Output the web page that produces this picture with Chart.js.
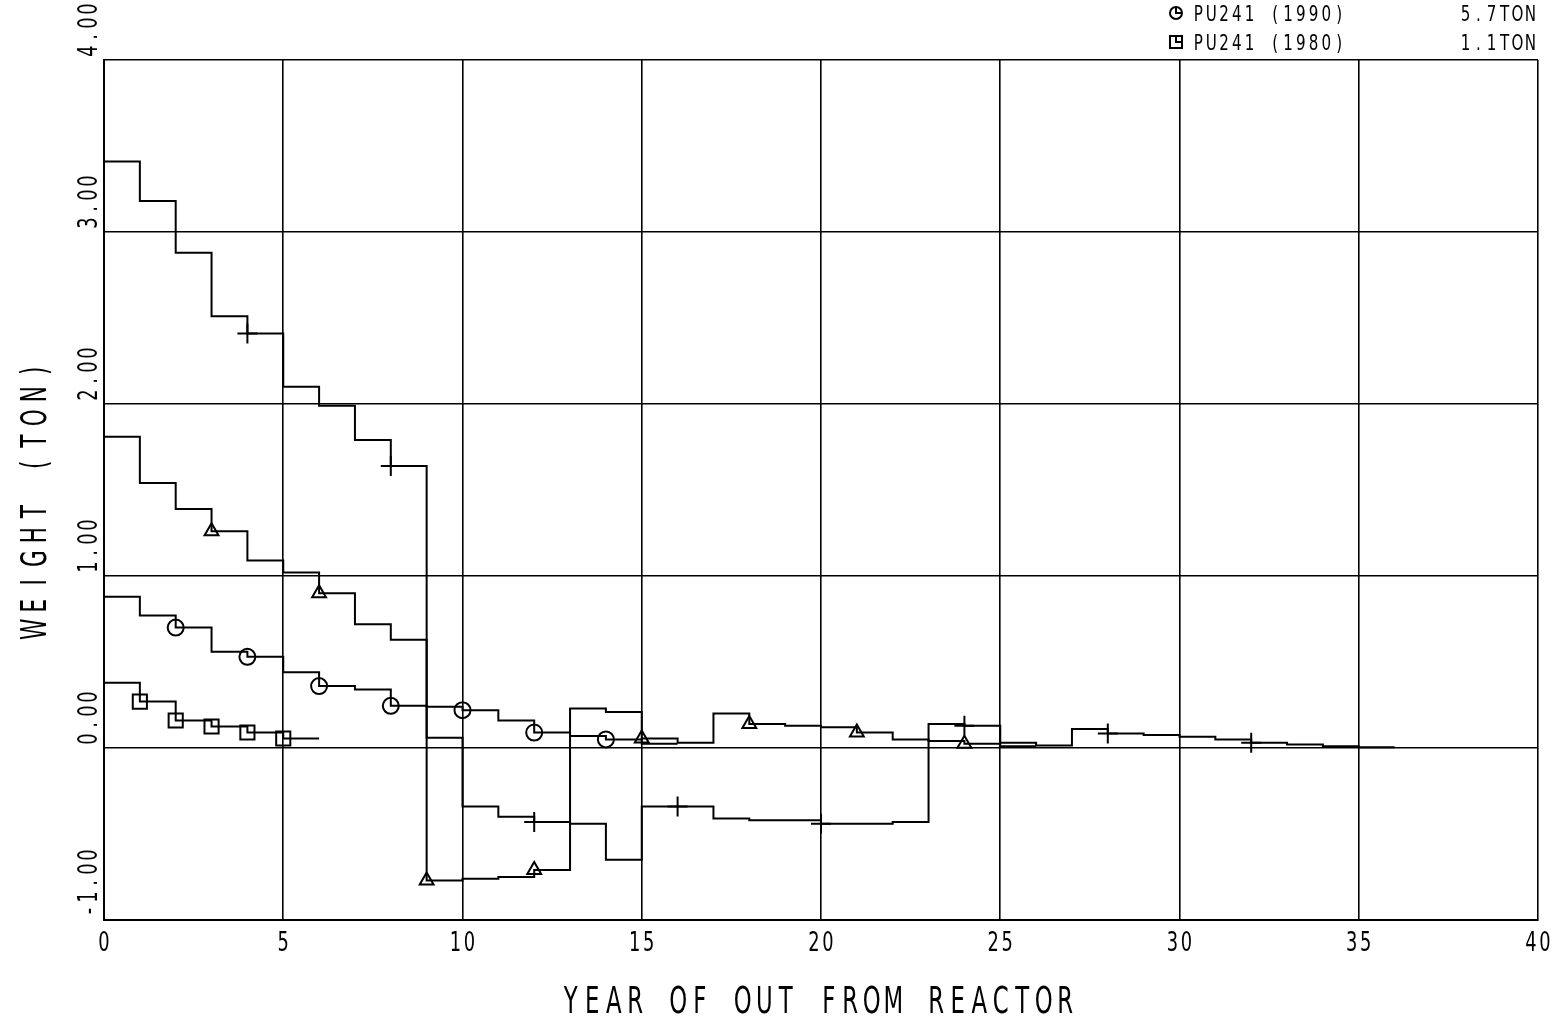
<!DOCTYPE html>
<html>
<head>
<meta charset="utf-8">
<script src="https://cdn.jsdelivr.net/npm/chart.js@4.4.0/dist/chart.umd.min.js"></script>
<style>
  html, body { margin: 0; padding: 0; background: #fff; }
  #wrap { width: 1566px; height: 1020px; }
</style>
</head>
<body>
<div id="wrap"><canvas id="plot" width="1566" height="1020"></canvas></div>
<script>
// yearly step values (ton), one value per year starting at year 0
const crossSteps = [3.41, 3.18, 2.88, 2.51, 2.41, 2.10, 1.99, 1.79, 1.64, 0.06,
  -0.34, -0.40, -0.43, -0.44, -0.65, -0.34, -0.34, -0.41, -0.42, -0.42,
  -0.44, -0.44, -0.43, 0.14, 0.13, 0.03, 0.015, 0.11, 0.085, 0.075,
  0.066, 0.05, 0.03, 0.02, 0.01, 0.005];
const triangleSteps = [1.81, 1.54, 1.39, 1.26, 1.09, 1.02, 0.90, 0.72, 0.63, -0.77,
  -0.76, -0.75, -0.71, 0.23, 0.21, 0.055, 0.03, 0.20, 0.14, 0.13,
  0.12, 0.09, 0.05, 0.04, 0.025, 0.01];
const circleSteps = [0.88, 0.77, 0.70, 0.56, 0.53, 0.44, 0.36, 0.34, 0.245, 0.24,
  0.22, 0.16, 0.09, 0.07, 0.05, 0.025];
const squareSteps = [0.38, 0.27, 0.16, 0.125, 0.09, 0.055];

// years where the plotter put a symbol on each curve
const crossMarks = [4, 8, 12, 16, 20, 24, 28, 32];
const triangleMarks = [3, 6, 9, 12, 15, 18, 21, 24];
const circleMarks = [2, 4, 6, 8, 10, 12, 14];
const squareMarks = [1, 2, 3, 4, 5];

const xTickValues = [0, 5, 10, 15, 20, 25, 30, 35, 40];
const yTickValues = [-1, 0, 1, 2, 3, 4];
const yTickLabels = ["-1.00", "0.00", "1.00", "2.00", "3.00", "4.00"];

const legendNames = ["PU241 (1990)", "PU241 (1980)"];
const legendTotals = ["5.7TON", "1.1TON"];

const FONT = "'DejaVu Sans', 'Liberation Sans', sans-serif";

// step points: value i holds from year i to i+1, extra point closes last step
function toSteps(vals) {
  const pts = vals.map((v, i) => ({ x: i, y: v }));
  pts.push({ x: vals.length, y: vals[vals.length - 1] });
  return pts;
}

function stepSet(vals, marks, style, radius) {
  return {
    data: toSteps(vals),
    stepped: true,
    borderColor: "#000",
    borderWidth: 2,
    pointStyle: style,
    pointBorderColor: "#000",
    pointBackgroundColor: "rgba(0,0,0,0)",
    pointBorderWidth: 2,
    pointRadius: (c) => (c.raw && marks.includes(c.raw.x) ? radius : 0),
    fill: false,
  };
}

// plotter-like text: every glyph in a fixed cell, squeezed sideways
function drawMono(ctx, text, x, y, o) {
  const n = text.length;
  let start = 0;
  if (o.align === "center") start = -n * o.pitch / 2;
  if (o.align === "right") start = -n * o.pitch;
  ctx.save();
  ctx.translate(x, y);
  if (o.rot) ctx.rotate(o.rot);
  ctx.font = o.size + "px " + FONT;
  ctx.fillStyle = "#000";
  ctx.textAlign = "center";
  ctx.textBaseline = "alphabetic";
  for (let i = 0; i < n; i++) {
    ctx.save();
    ctx.translate(start + (i + 0.5) * o.pitch, 0);
    ctx.scale(o.sx, 1);
    ctx.fillText(text[i], 0, 0);
    ctx.restore();
  }
  ctx.restore();
}

const plotterText = {
  id: "plotterText",
  afterDraw(chart) {
    const ctx = chart.ctx;
    const xs = chart.scales.x, ys = chart.scales.y;

    xTickValues.forEach((v) => {
      drawMono(ctx, String(v), xs.getPixelForValue(v), 951, { size: 27, pitch: 14, sx: 0.66, align: "center" });
    });
    yTickValues.forEach((v, i) => {
      drawMono(ctx, yTickLabels[i], 97, ys.getPixelForValue(v) - 2, { size: 27, pitch: 14, sx: 0.66, align: "left", rot: -Math.PI / 2 });
    });

    drawMono(ctx, "YEAR OF OUT FROM REACTOR", 818, 1013, { size: 38, pitch: 21.5, sx: 0.6, align: "center" });
    drawMono(ctx, "WEIGHT (TON)", 46, 500, { size: 36, pitch: 23.5, sx: 0.6, align: "center", rot: -Math.PI / 2 });

    // legend (only the two entries visible on the sheet)
    ctx.save();
    ctx.strokeStyle = "#000";
    ctx.lineWidth = 2;
    legendNames.forEach((name, i) => {
      const cy = 13 + i * 29;
      const cx = 1176;
      ctx.beginPath();
      if (i === 0) ctx.arc(cx, cy, 6, 0, Math.PI * 2);
      else ctx.rect(cx - 6, cy - 6, 12, 12);
      ctx.moveTo(cx, cy - 6);
      ctx.lineTo(cx, cy);
      ctx.lineTo(cx + 6, cy);
      ctx.stroke();
      drawMono(ctx, name, 1192, cy + 8, { size: 21, pitch: 12.8, sx: 0.72, align: "left" });
      drawMono(ctx, legendTotals[i], 1537, cy + 8, { size: 21, pitch: 13, sx: 0.72, align: "right" });
    });
    ctx.restore();
  },
};

new Chart(document.getElementById("plot"), {
  type: "line",
  data: {
    datasets: [
      stepSet(crossSteps, crossMarks, "cross", 10),
      stepSet(triangleSteps, triangleMarks, "triangle", 8),
      stepSet(circleSteps, circleMarks, "circle", 8),
      stepSet(squareSteps, squareMarks, "rect", 10),
    ],
  },
  options: {
    responsive: false,
    animation: false,
    devicePixelRatio: 1,
    events: [],
    layout: { padding: { left: 104, right: 28, top: 60, bottom: 100 } },
    plugins: { legend: { display: false }, tooltip: { enabled: false } },
    scales: {
      x: {
        type: "linear",
        min: 0,
        max: 40,
        ticks: { display: false, stepSize: 5 },
        grid: { color: "#000", lineWidth: 1.6, drawTicks: false },
        border: { color: "#000", width: 2 },
      },
      y: {
        type: "linear",
        min: -1,
        max: 4,
        ticks: { display: false, stepSize: 1 },
        grid: { color: "#000", lineWidth: 1.6, drawTicks: false },
        border: { color: "#000", width: 2 },
      },
    },
  },
  plugins: [plotterText],
});
</script>
</body>
</html>
